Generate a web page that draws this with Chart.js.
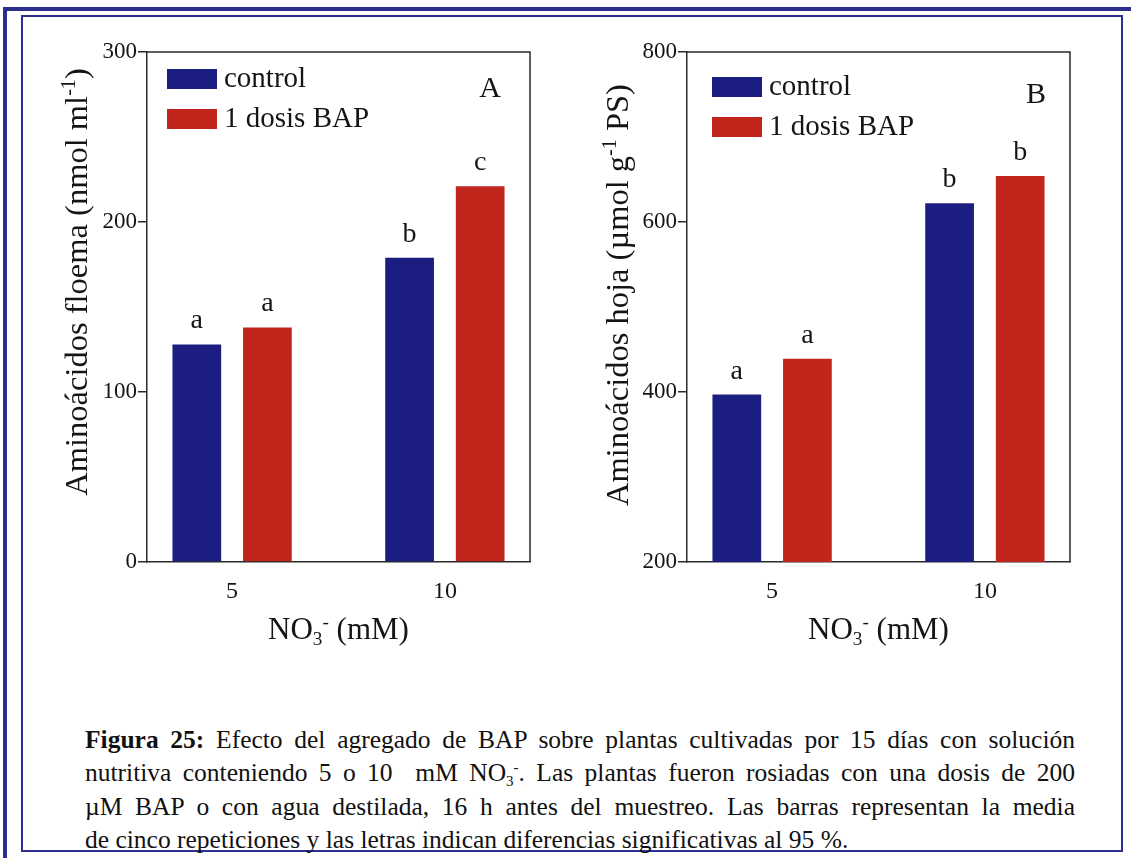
<!DOCTYPE html>
<html>
<head>
<meta charset="utf-8">
<script src="https://cdn.jsdelivr.net/npm/chart.js@4.4.1/dist/chart.umd.min.js"></script>
<style>
  html, body { margin: 0; padding: 0; background: #fff; }
  body { width: 1131px; height: 858px; position: relative; overflow: hidden; font-family: 'Liberation Serif', 'Times New Roman', serif; }
  .outer { position: absolute; left: 3px; top: 7px; width: 1300px; height: 1000px; box-sizing: border-box;
           border-left: 4px solid #2c2f8e; border-top: 4px solid #2c2f8e; }
  .frame { position: absolute; left: 21px; top: 15px; width: 1102px; height: 837px; box-sizing: border-box;
           border: 2.5px solid #2c2f8e; }
  canvas { position: absolute; }
  #chartA { left: 30px; top: 30px; }
  #chartB { left: 570px; top: 30px; }
  .caption { position: absolute; left: 85px; top: 723px; width: 990px; font-size: 25.5px; line-height: 33.3px; color: #111; }
  .caption div { text-align: justify; text-align-last: justify; }
  .caption div.last { text-align-last: left; }
  .caption .sb { font-size: 15px; position: relative; top: 5px; line-height: 0; }
  .caption .sp { font-size: 15px; position: relative; top: -9px; line-height: 0; }
</style>
</head>
<body>
<div class="outer"></div>
<div class="frame"></div>
<canvas id="chartA" width="520" height="630"></canvas>
<canvas id="chartB" width="520" height="630"></canvas>
<div class="caption">
  <div><b>Figura 25:</b> Efecto del agregado de BAP sobre plantas cultivadas por 15 días con solución</div>
  <div>nutritiva conteniendo 5 o 10&nbsp; mM NO<span class="sb">3</span><span class="sp">-</span>. Las plantas fueron rosiadas con una dosis de 200</div>
  <div>µM BAP o con agua destilada, 16 h antes del muestreo. Las barras representan la media</div>
  <div class="last">de cinco repeticiones y las letras indican diferencias significativas al 95 %.</div>
</div>
<script>
// Nitrate treatments (mM) and series names
const nitrate = [5, 10];
const seriesNames = ['control', '1 dosis BAP'];

// Panel A: phloem amino acids (nmol ml-1)
const floemaControl = [128, 179];
const floemaBAP = [138, 221];
const floemaLettersControl = ['a', 'b'];
const floemaLettersBAP = ['a', 'c'];
const floemaTicks = [0, 100, 200, 300];

// Panel B: leaf amino acids (µmol g-1 PS)
const hojaControl = [397, 622];
const hojaBAP = [439, 654];
const hojaLettersControl = ['a', 'b'];
const hojaLettersBAP = ['a', 'b'];
const hojaTicks = [200, 400, 600, 800];

const xRange = [3, 12];

const BLUE = '#1c1d80';
const RED = '#c1261d';
const INK = '#151515';
const AXIS = '#2a2a2a';
const FONT = '"Liberation Serif", "Times New Roman", serif';

// Draw a line of text made of runs: [text, shift] with shift 1 = superscript, -1 = subscript
function drawRuns(ctx, runs, size, cx, cy, rotate) {
  ctx.save();
  ctx.translate(cx, cy);
  if (rotate) ctx.rotate(-Math.PI / 2);
  const small = size * 0.62;
  let total = 0;
  const widths = runs.map(([t, s]) => {
    ctx.font = (s ? small : size) + 'px ' + FONT;
    const w = ctx.measureText(t).width;
    total += w;
    return w;
  });
  let x = -total / 2;
  ctx.textBaseline = 'alphabetic';
  ctx.textAlign = 'left';
  ctx.fillStyle = INK;
  runs.forEach(([t, s], i) => {
    ctx.font = (s ? small : size) + 'px ' + FONT;
    const dy = s === 1 ? -size * 0.36 : s === -1 ? size * 0.2 : 0;
    ctx.fillText(t, x, size * 0.33 + dy);
    x += widths[i];
  });
  ctx.restore();
}

// Frame, legend, panel letter, significance letters and axis titles
const panelDecor = {
  id: 'panelDecor',
  afterDatasetsDraw(chart, args, opts) {
    const ctx = chart.ctx;
    const a = chart.chartArea;
    ctx.save();
    // top and right sides of the plot box
    ctx.strokeStyle = AXIS;
    ctx.lineWidth = 1.5;
    ctx.beginPath();
    ctx.moveTo(a.left, a.top);
    ctx.lineTo(a.right, a.top);
    ctx.lineTo(a.right, a.bottom);
    ctx.stroke();

    // letters above bars
    ctx.fillStyle = INK;
    ctx.font = '28px ' + FONT;
    ctx.textAlign = 'center';
    ctx.textBaseline = 'alphabetic';
    chart.data.datasets.forEach((ds, di) => {
      const meta = chart.getDatasetMeta(di);
      meta.data.forEach((bar, i) => {
        ctx.fillText(ds.letters[i], bar.x, bar.y - opts.letterGap);
      });
    });

    // legend inside the plot
    ctx.font = '29px ' + FONT;
    ctx.textAlign = 'left';
    ctx.textBaseline = 'middle';
    chart.data.datasets.forEach((ds, di) => {
      const x = a.left + opts.legendX;
      const y = a.top + opts.legendY + di * 40;
      ctx.fillStyle = ds.backgroundColor;
      ctx.fillRect(x, y, 50, 20);
      ctx.fillStyle = INK;
      ctx.fillText(ds.label, x + 57, y + 10);
    });

    // panel letter
    ctx.font = '30px ' + FONT;
    ctx.textAlign = 'center';
    ctx.fillText(opts.panel, a.right + opts.panelX, a.top + opts.panelY);
    ctx.restore();

    // axis titles
    drawRuns(ctx, opts.yTitle, 32.5, a.left + opts.yTitleX, a.top + opts.yTitleY, true);
    drawRuns(ctx, [['NO', 0], ['3', -1], ['-', 1], [' (mM)', 0]], 31, (a.left + a.right) / 2, a.bottom + 67, false);
  }
};

function makeChart(id, control, bap, lettersC, lettersB, ticks, decor) {
  const toPoints = vals => nitrate.map((x, i) => ({ x, y: vals[i] }));
  return new Chart(document.getElementById(id), {
    type: 'bar',
    data: {
      datasets: [
        { label: seriesNames[0], data: toPoints(control), backgroundColor: BLUE, letters: lettersC, clip: 0 },
        { label: seriesNames[1], data: toPoints(bap), backgroundColor: RED, letters: lettersB, clip: 0 }
      ]
    },
    options: {
      responsive: false,
      devicePixelRatio: 1,
      animation: false,
      events: [],
      categoryPercentage: 0.6636,
      barPercentage: 0.69,
      layout: { padding: { top: 22, right: 20, left: 0, bottom: 0 } },
      plugins: { legend: { display: false }, tooltip: { enabled: false }, panelDecor: decor },
      scales: {
        x: {
          type: 'linear',
          offset: false,
          min: xRange[0],
          max: xRange[1],
          afterBuildTicks: s => { s.ticks = nitrate.map(v => ({ value: v })); },
          afterFit: s => { s.height = 98; },
          grid: { display: false },
          border: { display: true, color: AXIS, width: 1.5 },
          ticks: { color: INK, padding: 7, font: { family: FONT, size: 24 } }
        },
        y: {
          min: ticks[0],
          max: ticks[ticks.length - 1],
          afterBuildTicks: s => { s.ticks = ticks.map(v => ({ value: v })); },
          afterFit: s => { s.width = 117; },
          grid: { drawOnChartArea: false, drawTicks: true, tickLength: 9, color: AXIS, lineWidth: 1.5 },
          border: { display: true, color: AXIS, width: 1.5 },
          ticks: { color: INK, padding: 1, font: { family: FONT, size: 23 } }
        }
      }
    },
    plugins: [panelDecor]
  });
}

makeChart('chartA', floemaControl, floemaBAP, floemaLettersControl, floemaLettersBAP, floemaTicks, {
  panel: 'A', panelX: -40, panelY: 37,
  legendX: 20, legendY: 17, letterGap: 16,
  yTitle: [['Aminoácidos floema (nmol ml', 0], ['-1', 1], [')', 0]],
  yTitleX: -71, yTitleY: 230
});

makeChart('chartB', hojaControl, hojaBAP, hojaLettersControl, hojaLettersBAP, hojaTicks, {
  panel: 'B', panelX: -34, panelY: 43,
  legendX: 25, legendY: 25, letterGap: 16,
  yTitle: [['Aminoácidos hoja (µmol g', 0], ['-1', 1], [' PS)', 0]],
  yTitleX: -70, yTitleY: 243
});
</script>
</body>
</html>
